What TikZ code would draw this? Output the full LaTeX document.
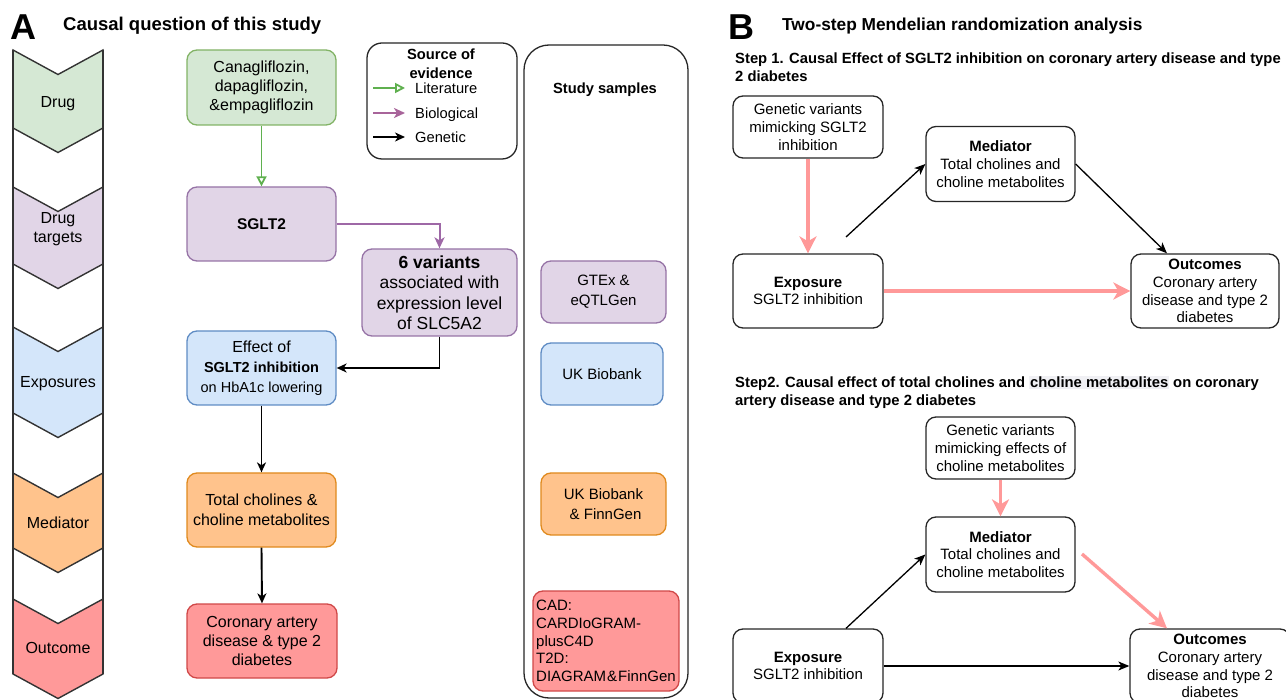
\documentclass[tikz,border=0pt]{standalone}
\usepackage{fontspec}
\setmainfont{Liberation Sans}
\usetikzlibrary{arrows.meta,calc}
\definecolor{gfill}{HTML}{D5E8D4}\definecolor{gline}{HTML}{82B366}
\definecolor{pfill}{HTML}{E1D5E7}\definecolor{pline}{HTML}{9673A6}
\definecolor{bfill}{HTML}{D4E6FA}\definecolor{bline}{HTML}{5F8CC4}
\definecolor{ofill}{HTML}{FFC38C}\definecolor{oline}{HTML}{E08A1E}
\definecolor{rfill}{HTML}{FF9999}\definecolor{rline}{HTML}{D04848}
\definecolor{pinkc}{HTML}{FF9999}
\definecolor{garrow}{HTML}{5FB04F}
\definecolor{parrow}{HTML}{9E68A6}
\definecolor{larrow}{HTML}{A8649A}
\definecolor{chev}{HTML}{333333}
\definecolor{hlc}{HTML}{F0F0F4}
\newcommand\fsz[2]{\fontsize{#1}{#2}\selectfont}
\tikzset{
  box/.style={draw, rounded corners=10pt, line width=1.3pt, align=center, inner sep=0pt},
  wbox/.style={box, draw=black!85, fill=white, line width=1.3pt, font=\fsz{15}{17.8}},
  chevshape/.style={draw=chev, line width=1.4pt},
  garr/.style={draw=garrow, line width=1.8pt, -{Triangle[open, length=10pt, width=10pt]}},
  parr/.style={draw=parrow, line width=2pt, -{Stealth[length=11pt, width=10pt, inset=3pt]}},
  larr/.style={draw=larrow, line width=2pt, -{Stealth[length=11pt, width=10pt, inset=3pt]}},
  barr/.style={draw=black, line width=1.9pt, -{Stealth[length=10pt, width=9pt, inset=3pt]}},
  barrB/.style={draw=black, line width=1.3pt, -{Stealth[length=11pt, width=9pt, inset=3pt]}},
  pinkarr/.style={draw=pinkc, line width=3.4pt, -{Stealth[length=17pt, width=17pt, inset=5pt]}},
  lbl/.style={inner sep=0pt},
}
\begin{document}
\begin{tikzpicture}[x=1pt,y=-1pt]
\useasboundingbox (0,0) rectangle (1286,700);
\clip (0,0) rectangle (1286,700);

% ---------- Panel A headings ----------
\node[lbl, anchor=base west, font=\fsz{36}{36}\bfseries] (hA) at (10,40) {A};
\node[lbl, anchor=base west, font=\fsz{18.5}{20}\bfseries] (tA) at (63,31) {Causal question of this study};

% ---------- chevron column ----------
\foreach \t/\b/\c in {50/128/gfill, 187/264/pfill, 327/413/bfill, 473/548/ofill, 599/674/rfill}{
  \path[chevshape, fill=\c] (13,\t) -- (58,\t+24.5) -- (103,\t) -- (103,\b) -- (58,\b+24.5) -- (13,\b) -- cycle;
}
\draw[chev, line width=1.4pt] (13,50) -- (13,674);
\draw[chev, line width=1.4pt] (103,50) -- (103,674);
\node[lbl, anchor=base, font=\fsz{16}{19}] (cDrug) at (58,107.5) {Drug};
\node[lbl, anchor=base, font=\fsz{16}{19}, align=center] (cTarg) at (58,243) {Drug\\targets};
\node[lbl, anchor=base, font=\fsz{16}{19}] (cExp) at (58,387.5) {Exposures};
\node[lbl, anchor=base, font=\fsz{16}{19}] (cMed) at (58,528.5) {Mediator};
\node[lbl, anchor=base, font=\fsz{16}{19}] (cOut) at (58,653.5) {Outcome};

% ---------- middle column ----------
\node[box, draw=gline, fill=gfill, minimum width=149pt, minimum height=75pt, font=\fsz{16}{19.2}] (can) at (261.5,87.5)
  {Canagliflozin,\\dapagliflozin,\\\&empagliflozin};
\node[box, draw=pline, fill=pfill, minimum width=149pt, minimum height=74pt, font=\fsz{15.5}{19}\bfseries] (sglt) at (261.5,224) {SGLT2};
\node[box, draw=bline, fill=bfill, minimum width=149pt, minimum height=74pt, font=\fsz{14.5}{20}] (eff) at (261.5,368)
  {{\fsz{16}{20}Effect of}\\\textbf{SGLT2 inhibition}\\on HbA1c lowering};
\node[box, draw=oline, fill=ofill, minimum width=149pt, minimum height=74pt, font=\fsz{16}{19.5}] (tot) at (261.5,510)
  {Total cholines \&\\choline metabolites};
\node[box, draw=rline, fill=rfill, minimum width=150pt, minimum height=74pt, font=\fsz{16}{19}] (cor) at (262,641)
  {Coronary artery\\disease \& type 2\\diabetes};
\node[box, draw=pline, fill=pfill, minimum width=155pt, minimum height=87pt, font=\fsz{17.5}{20.5}] (var) at (439.5,292.5)
  {\textbf{6 variants}\\associated with\\expression level\\of SLC5A2};

\draw[garr] (can.south) -- (sglt.north);
\draw[parr] (sglt.east) -| (var.north);
\draw[barr] (var.south) |- (eff.east);
\draw[barr] (eff.south) -- (tot.north);
\draw[barr] (tot.south) -- (cor.north);

% ---------- legend ----------
\node[box, draw=black!85, fill=white, rounded corners=15pt, line width=1.3pt, minimum width=150pt, minimum height=116pt] (leg) at (442,101) {};
\node[lbl, align=center, font=\fsz{14.7}{19}\bfseries] (legT) at (441,64) {Source of\\evidence};
\coordinate (l1a) at (373,88);  \coordinate (l1b) at (405,88);
\coordinate (l2a) at (373,113); \coordinate (l2b) at (405,113);
\coordinate (l3a) at (373,137); \coordinate (l3b) at (405,137);
\draw[garr] (l1a) -- (l1b);
\draw[larr] (l2a) -- (l2b);
\draw[barr] (l3a) -- (l3b);
\node[lbl, anchor=base west, font=\fsz{14.7}{17}] (lt1) at (415,93.3) {Literature};
\node[lbl, anchor=base west, font=\fsz{14.7}{17}] (lt2) at (415,118.3) {Biological};
\node[lbl, anchor=base west, font=\fsz{14.7}{17}] (lt3) at (415,142.3) {Genetic};

% ---------- study samples ----------
\node[box, draw=black!85, fill=white, rounded corners=25pt, line width=1.3pt, minimum width=164pt, minimum height=653pt] (ss) at (606,371.5) {};
\node[lbl, anchor=base, font=\fsz{14.7}{17}\bfseries] (ssT) at (605,93.5) {Study samples};
\node[box, draw=pline, fill=pfill, minimum width=125pt, minimum height=62pt, font=\fsz{15}{20}] (gtex) at (603.5,292) {GTEx \&\\eQTLGen};
\node[box, draw=bline, fill=bfill, minimum width=122pt, minimum height=62pt, font=\fsz{15}{20}] (ukb) at (602,374) {UK Biobank};
\node[box, draw=oline, fill=ofill, minimum width=125pt, minimum height=62pt, font=\fsz{15}{20}] (ukbf) at (603.5,504) {UK Biobank\\\ \& FinnGen};
\node[box, draw=rline, fill=rfill, minimum width=146pt, minimum height=100pt, font=\fsz{15}{17.7}, align=left] (cad) at (606,641)
  {CAD:\\CARDIoGRAM-\\plusC4D\\T2D:\\DIAGRAM\kern1pt\&\kern1pt FinnGen};

% ---------- Panel B headings ----------
\node[lbl, anchor=base west, font=\fsz{36}{36}\bfseries] (hB) at (728,39.5) {B};
\node[lbl, anchor=base west, font=\fsz{17.3}{20}\bfseries] (tB) at (782,30.5) {Two-step Mendelian randomization analysis};
\node[lbl, anchor=north west, align=left, font=\fsz{14.8}{18}\bfseries] (st1) at (735,52.5)
  {Step 1. Causal Effect of SGLT2 inhibition on coronary artery disease and type\\2 diabetes};
\node[lbl, anchor=north west, align=left, font=\fsz{14.8}{17.5}\bfseries] (st2) at (735,376)
  {Step2. Causal effect of total cholines and {\setlength\fboxsep{0.8pt}\colorbox{hlc}{choline metabolites}} on coronary\\artery disease and type 2 diabetes};

% ---------- Step 1 ----------
\node[wbox, minimum width=150pt, minimum height=62pt] (gen1) at (808,127) {Genetic variants\\mimicking SGLT2\\inhibition};
\node[wbox, minimum width=149pt, minimum height=75pt] (med1) at (1000.5,164) {\textbf{Mediator}\\Total cholines and\\choline metabolites};
\node[wbox, minimum width=150pt, minimum height=74pt] (exp1) at (808,291) {\textbf{Exposure}\\SGLT2 inhibition};
\node[wbox, minimum width=148pt, minimum height=74pt] (out1) at (1205,291) {\textbf{Outcomes}\\Coronary artery\\disease and type 2\\diabetes};
\coordinate (s1) at (846,237);
\draw[pinkarr] (gen1.south) -- (exp1.north);
\draw[barrB] (s1) -- (med1.west);
\draw[barrB] (med1.east) -- ([xshift=-38pt]out1.north);
\draw[pinkarr] (exp1.east) -- (out1.west);

% ---------- Step 2 ----------
\node[wbox, minimum width=149pt, minimum height=62pt] (gen2) at (1000.5,448) {Genetic variants\\mimicking effects of\\choline metabolites};
\node[wbox, minimum width=149pt, minimum height=75pt] (med2) at (1000.5,554.5) {\textbf{Mediator}\\Total cholines and\\choline metabolites};
\node[wbox, minimum width=150pt, minimum height=74pt] (exp2) at (808,666) {\textbf{Exposure}\\SGLT2 inhibition};
\node[wbox, minimum width=160pt, minimum height=74pt] (out2) at (1210,666) {\textbf{Outcomes}\\Coronary artery\\disease and type 2\\diabetes};
\coordinate (s2) at (1082,554);
\draw[pinkarr] (gen2.south) -- (med2.north);
\draw[barrB] ([xshift=38pt]exp2.north) -- (med2.west);
\draw[pinkarr] (s2) -- ([xshift=-43pt]out2.north);
\draw[barrB] (exp2.east) -- (out2.west);
\end{tikzpicture}
\end{document}
